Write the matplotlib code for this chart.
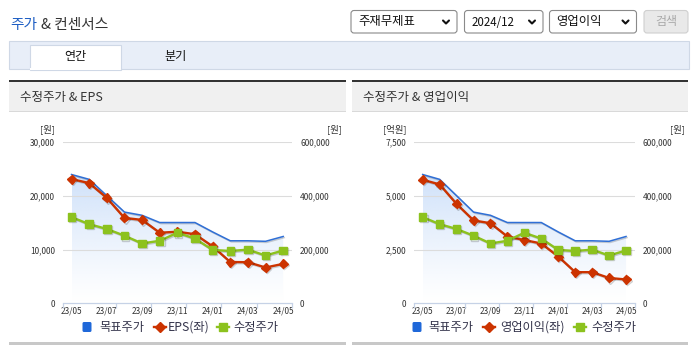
import numpy as np
import matplotlib
matplotlib.use('Agg')
import matplotlib.pyplot as plt
from matplotlib.patches import Rectangle, FancyBboxPatch, Polygon
import matplotlib.patheffects as pe
from matplotlib.colors import to_rgb

plt.rcParams['font.family'] = ['Noto Sans CJK KR', 'DejaVu Sans']

# ---------------- data ----------------
months = ['23/05', '23/06', '23/07', '23/08', '23/09', '23/10', '23/11',
          '23/12', '24/01', '24/02', '24/03', '24/04', '24/05']
target_price = [480000, 462000, 401000, 340000, 328000, 301000, 301000,
                301000, 266000, 233000, 233000, 231000, 249000]
adj_price = [321000, 295000, 277000, 252000, 223000, 233000, 263000,
             241000, 199000, 195000, 200000, 178000, 197000]
eps = [23150, 22400, 19640, 15910, 15540, 13150, 13340,
       12870, 10610, 7690, 7660, 6670, 7350]
op_income = [5755, 5538, 4630, 3862, 3730, 3110, 2947,
             2785, 2180, 1450, 1450, 1180, 1110]

eps_ticks = [0, 10000, 20000, 30000]
op_ticks = [0, 2500, 5000, 7500]
price_ticks = [0, 200000, 400000, 600000]

W, H = 695, 349
fig = plt.figure(figsize=(W / 100, H / 100), dpi=100)
ov = fig.add_axes([0, 0, 1, 1], label='overlay')
ov.set_xlim(0, W)
ov.set_ylim(H, 0)
ov.axis('off')
ov.set_zorder(0)

TXT = '#333333'
BLUE = '#1f68d9'
RED = '#cc3300'
GREEN = '#8cc21e'


def rect(x0, y0, x1, y1, fc, ec='none', lw=0, z=1):
    ov.add_patch(Rectangle((x0, y0), x1 - x0, y1 - y0, facecolor=fc,
                           edgecolor=ec, linewidth=lw, zorder=z))


# ---------------- page chrome ----------------
ov.text(10, 25, '주가', color='#1f5fc4', fontsize=10.6, va='center', ha='left')
ov.text(41, 25, '& 컨센서스', color=TXT, fontsize=10.6, va='center', ha='left')

def dropdown(x0, x1, label, fs):
    ov.add_patch(FancyBboxPatch((x0, 10.5), x1 - x0, 22.5,
                                boxstyle='round,pad=0,rounding_size=3',
                                facecolor='white', edgecolor='#8a8a8a', lw=0.8, zorder=2))
    ov.text(x0 + 7, 22, label, fontsize=fs, color='#111111', va='center', ha='left', zorder=3)
    cx = x1 - 11
    ov.plot([cx - 3, cx, cx + 3], [20.5, 23.5, 20.5], color='#111111', lw=1.5,
            solid_capstyle='round', zorder=3)

dropdown(351, 457, '주재무제표', 8.9)
dropdown(464.5, 543, '2024/12', 8.3)
dropdown(549.5, 636.5, '영업이익', 8.9)
ov.add_patch(FancyBboxPatch((644, 10.5), 44, 22.5, boxstyle='round,pad=0,rounding_size=3',
                            facecolor='#e9e9e9', edgecolor='#cfcfcf', lw=0.8, zorder=2))
ov.text(666, 22, '검색', fontsize=8.6, color='#a8a8a8', va='center', ha='center', zorder=3)

# tab bar
rect(9, 40.5, 689, 69, '#e8eef8', '#cfd8e6', 0.8)
rect(29.5, 45, 120.5, 69.6, 'white', '#cfd8e6', 0.8, z=2)
rect(30, 68, 120, 70, 'white', z=3)
ov.text(75, 56.5, '연간', fontsize=8.7, color='#111111', va='center', ha='center', zorder=4)
ov.text(176, 56.5, '분기', fontsize=8.7, color='#111111', va='center', ha='center', zorder=4)

# panels
for (px0, px1, title) in [(9, 346, '수정주가 & EPS'), (352, 688, '수정주가 & 영업이익')]:
    rect(px0, 80, px1, 82, '#333333')
    rect(px0, 82, px1, 111, '#f0f0f0')
    rect(px0, 111, px1, 112, '#d9d9d9')
    rect(px0, 342, px1, 344.5, '#c8c8c8')
    ov.text(px0 + 11, 97, title, fontsize=9.0, color=TXT, va='center', ha='left')


# ---------------- charts ----------------
def make_chart(x0, x1, left_vals, left_ticks, left_unit, left_label, lg):
    y0, y1 = 142.3, 303.3
    r = [x0 / W, 1 - y1 / H, (x1 - x0) / W, (y1 - y0) / H]
    ax_p = fig.add_axes(r, label='p' + left_label)
    ax_l = fig.add_axes(r, label='l' + left_label)
    ax_g = fig.add_axes(r, label='g' + left_label)
    ax_p.set_zorder(1)
    ax_l.set_zorder(2)
    ax_g.set_zorder(3)
    x = np.arange(len(months))
    for a in (ax_p, ax_l, ax_g):
        a.patch.set_visible(False)
        a.set_xlim(-0.5, len(months) - 0.5)
        for s in a.spines.values():
            s.set_visible(False)
    # price base axis: grid, fill, target line
    ax_p.set_ylim(price_ticks[0], price_ticks[-1])
    ax_p.set_yticks(price_ticks[1:])
    ax_p.yaxis.grid(True, color='#dcdcdc', lw=0.8)
    ax_p.tick_params(axis='y', left=False, labelleft=False)
    ax_p.spines['bottom'].set_visible(True)
    ax_p.spines['bottom'].set_color('#c6d2e6')
    ax_p.spines['bottom'].set_linewidth(0.9)
    ax_p.set_xticks(x[::2])
    ax_p.set_xticklabels(months[::2], fontsize=5.9, color=TXT)
    ax_p.set_xticks(np.r_[-0.5, np.arange(2.5, len(months), 2)], minor=True)
    ax_p.tick_params(axis='x', which='major', length=0, pad=2.0)
    ax_p.tick_params(axis='x', which='minor', length=3.5, color='#c6d2e6', width=0.9)

    tmax = max(target_price)
    grad = np.zeros((256, 1, 4))
    grad[:, 0, :3] = to_rgb('#cfe1fa')
    grad[:, 0, 3] = np.linspace(0.0, 1.0, 256) ** 1.2
    im = ax_p.imshow(grad, extent=(x[0], x[-1], 0, tmax), origin='lower',
                     aspect='auto', interpolation='bilinear', zorder=1)
    verts = list(zip(x, target_price)) + [(x[-1], 0), (x[0], 0)]
    poly = Polygon(verts, closed=True, transform=ax_p.transData, facecolor='none', edgecolor='none')
    im.set_clip_path(poly)
    ax_p.set_xlim(-0.5, len(months) - 0.5)
    ax_p.set_ylim(price_ticks[0], price_ticks[-1])
    shadow = [pe.SimpleLineShadow(offset=(0.8, -0.8), shadow_color='k', alpha=0.18), pe.Normal()]
    ax_p.plot(x, target_price, color='#2f6fd6', lw=1.1, zorder=3, path_effects=shadow)

    # left axis series
    ax_l.set_ylim(left_ticks[0], left_ticks[-1])
    ax_l.set_yticks(left_ticks)
    ax_l.set_yticklabels([f'{v:,}' for v in left_ticks], fontsize=6.0, color=TXT)
    ax_l.tick_params(axis='y', length=0, pad=5.5)
    ax_l.set_xticks([])
    ax_l.plot(x, left_vals, color=RED, lw=1.7, marker='D', ms=4.6, mfc=RED, mec=RED,
              path_effects=shadow)

    # adjusted price on right axis
    ax_g.set_ylim(price_ticks[0], price_ticks[-1])
    ax_g.yaxis.tick_right()
    ax_g.set_yticks(price_ticks)
    ax_g.set_yticklabels([f'{v:,}' for v in price_ticks], fontsize=6.0, color=TXT)
    ax_g.tick_params(axis='y', length=0, pad=5.8)
    ax_g.set_xticks([])
    ax_g.plot(x, adj_price, color=GREEN, lw=1.7, marker='s', ms=5.4, mfc=GREEN, mec=GREEN,
              path_effects=shadow)

    # unit labels
    ov.text(x0 - 7.5, 129, left_unit, fontsize=6.8, color=TXT, ha='right', va='center')
    ov.text(x1 + 50, 129, '[원]', fontsize=6.8, color=TXT, ha='right', va='center')

    # legend
    (bx, tx1, rx, tx2, gx, tx3) = lg
    ly = 327
    ov.add_patch(FancyBboxPatch((bx - 4.5, ly - 5), 9, 10, boxstyle='round,pad=0,rounding_size=1.5',
                                facecolor=BLUE, edgecolor='none', zorder=3))
    ov.text(tx1, ly, '목표주가', fontsize=8.8, color='#33334a', va='center', ha='left')
    ov.plot([rx - 6, rx + 6], [ly, ly], color=RED, lw=1.7)
    ov.plot([rx], [ly], marker='D', ms=4.6, color=RED)
    ov.text(tx2, ly, left_label, fontsize=8.8, color='#33334a', va='center', ha='left')
    ov.plot([gx - 6, gx + 6], [ly, ly], color=GREEN, lw=1.7)
    ov.plot([gx], [ly], marker='s', ms=5.4, color=GREEN)
    ov.text(tx3, ly, '수정주가', fontsize=8.8, color='#33334a', va='center', ha='left')


make_chart(62.7, 292.0, eps, eps_ticks, '[원]', 'EPS(좌)',
           (87, 99, 160, 168, 223, 233))
make_chart(414.2, 634.5, op_income, op_ticks, '[억원]', '영업이익(좌)',
           (417, 428, 489, 500, 580, 591))

fig.savefig('out.png', dpi=100)
